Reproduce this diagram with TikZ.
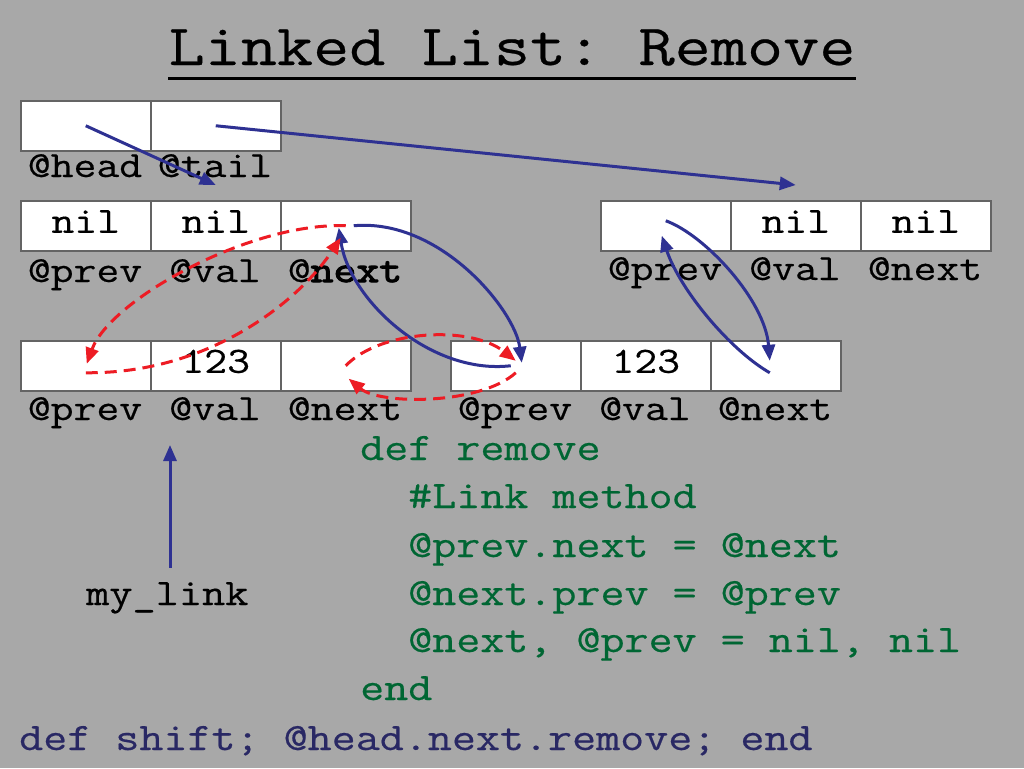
\documentclass[tikz,border=0pt]{standalone}
\usepackage{fontspec}
\newfontfamily\tw[FakeStretch=1.2,FakeBold=0.4]{Latin Modern Mono}
\newfontfamily\twb[FakeStretch=1.2,FakeBold=3]{Latin Modern Mono}
\usetikzlibrary{arrows.meta}
\definecolor{bg}{RGB}{168,168,168}
\definecolor{arrblue}{RGB}{46,49,146}
\definecolor{arrred}{RGB}{237,28,36}
\definecolor{codegreen}{RGB}{0,102,51}
\definecolor{codenavy}{RGB}{41,40,100}
\definecolor{cellline}{RGB}{100,100,100}
\frenchspacing
\begin{document}
\begin{tikzpicture}[x=1pt,y=-1pt,
 cell/.style={draw=cellline,line width=1.5pt,fill=white,minimum width=130pt,minimum height=50pt,inner sep=0pt,anchor=north west,font=\tw\fontsize{37}{37}\selectfont,text height=14pt,text depth=0pt},
 lab/.style={anchor=base,inner sep=0pt,font=\tw\fontsize{37}{37}\selectfont},
 code/.style={anchor=base west,inner sep=0pt,text=codegreen,font=\tw\fontsize{38.9}{38.9}\selectfont},
 ptr/.style={draw=arrblue,line width=3pt,-{Triangle[length=16pt,width=13pt]}},
 old/.style={draw=arrred,line width=3pt,dash pattern=on 12pt off 7pt,-{Triangle[length=16pt,width=13pt]}},
]
\fill[bg] (0,0) rectangle (1024,768);
% title
\node[anchor=base,inner sep=0pt,font=\tw\fontsize{58.5}{58.5}\selectfont] (title) at (512,65) {Linked List: Remove};
\draw[line width=3pt] ([yshift=-13pt]title.base west) -- ([yshift=-13pt]title.base east);
% cells
\node[cell] (h1) at (20,100) {};
\node[cell] (h2) at (150,100) {};
\node[cell] (a1) at (20,200) {nil};
\node[cell] (a2) at (150,200) {nil};
\node[cell] (a3) at (280,200) {};
\node[cell] (b1) at (600,200) {};
\node[cell] (b2) at (730,200) {nil};
\node[cell] (b3) at (860,200) {nil};
\node[cell] (c1) at (20,340) {};
\node[cell] (c2) at (150,340) {123};
\node[cell] (c3) at (280,340) {};
\node[cell] (d1) at (450,340) {};
\node[cell] (d2) at (580,340) {123};
\node[cell] (d3) at (710,340) {};
% labels
\node[lab] (lh1) at (85,177) {@head};
\node[lab] (lh2) at (215,177) {@tail};
\node[lab] (la1) at (85,282) {@prev};
\node[lab] (la2) at (215,282) {@val};
\node[lab] (la3) at (345,282) {@{\twb next}};
\node[lab] (lb1) at (665,280) {@prev};
\node[lab] (lb2) at (795,280) {@val};
\node[lab] (lb3) at (925,280) {@next};
\node[lab] (lc1) at (85,420) {@prev};
\node[lab] (lc2) at (215,420) {@val};
\node[lab] (lc3) at (345,420) {@next};
\node[lab] (ld1) at (515,420) {@prev};
\node[lab] (ld2) at (645,420) {@val};
\node[lab] (ld3) at (775,420) {@next};
% code
\node[code] (k1) at (360,460) {def remove};
\node[code] (k2) at (408,508) {\#Link method};
\node[code] (k3) at (408,557) {@prev.next = @next};
\node[code] (k4) at (408,605) {@next.prev = @prev};
\node[code] (k5) at (408,652) {@next, @prev = nil, nil};
\node[code] (k6) at (360,700) {end};
\node[code,text=codenavy] (k7) at (19,750) {def shift; @head.next.remove; end};
\node[anchor=base west,inner sep=0pt,font=\tw\fontsize{37.5}{37.5}\selectfont] (mylink) at (86,605) {my\_link};
\coordinate (mlt) at (170,445);
\coordinate (mls) at ([yshift=14pt]mylink.north);
% pointers
\draw[ptr] (h1.center) -- ([yshift=15pt]a2.north);
\draw[ptr] (h2.center) -- ([yshift=15pt]b2.north);
\draw[ptr] (mls -| mlt) -- (mlt);
\draw[ptr] ([xshift=8pt]a3.center) .. controls (440,218) and (515,310) .. ([xshift=6pt,yshift=3pt]d1.center);
\draw[ptr] ([xshift=-5pt]d1.center) .. controls (430,375) and (350,300) .. ([xshift=-7pt,yshift=-2pt]a3.center);
\draw[ptr] ([yshift=5pt]b1.center) .. controls (705,235) and (765,300) .. ([xshift=-6pt,yshift=5pt]d3.center);
\draw[ptr] ([xshift=-6pt,yshift=-7pt]d3.center) .. controls (730,350) and (680,290) .. ([xshift=-4pt,yshift=-10pt]b1.center);
% old links
\draw[old] (a3.center) .. controls (250,222) and (110,300) .. ([xshift=1pt,yshift=2pt]c1.center);
\draw[old] ([yshift=-7pt]c1.center) .. controls (210,374) and (300,300) .. ([xshift=-5pt,yshift=-12pt]a3.center);
\draw[old] (c3.center) .. controls (380,330) and (470,325) .. ([yshift=5pt]d1.center);
\draw[old] ([yshift=-7pt]d1.center) .. controls (480,405) and (380,405) .. ([xshift=3pt,yshift=-13pt]c3.center);
\end{tikzpicture}
\end{document}
